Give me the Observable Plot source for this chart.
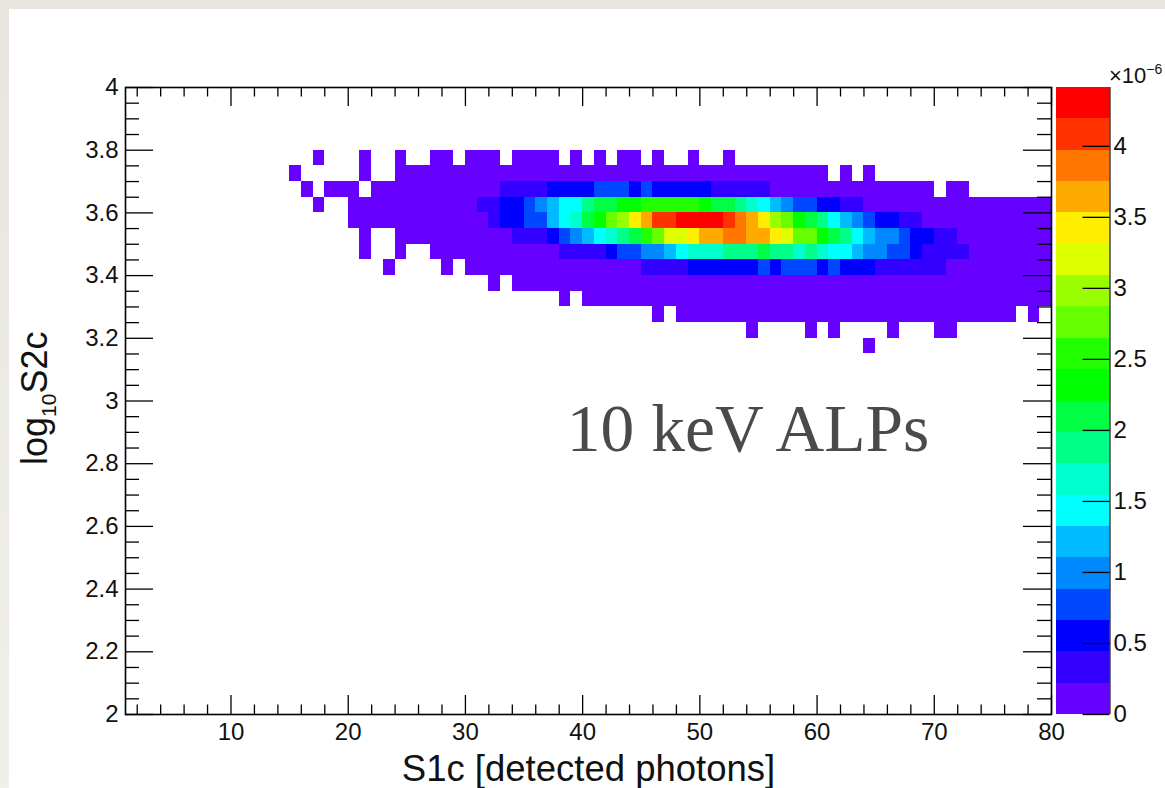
<!DOCTYPE html>
<html>
<head>
<meta charset="utf-8">
<script src="https://cdn.jsdelivr.net/npm/d3@7"></script>
<script src="https://cdn.jsdelivr.net/npm/@observablehq/plot@0.6"></script>
<style>
html,body{margin:0;padding:0;width:1165px;height:788px;overflow:hidden;background:linear-gradient(#e8e5de,#f1efea);}
#panel{position:absolute;left:9px;top:9px;width:1156px;height:779px;background:#fff;}
#chart svg{position:absolute;left:0;top:0;overflow:visible;}
</style>
</head>
<body>
<div id="panel"></div>
<div id="chart"></div>
<script>
// Palette of the 20 z-levels, bottom to top
const palette = ["#6600ff","#3300ff","#0000ff","#0048ff","#0088ff","#00bbff","#00ffff","#00ffcc","#00ff88","#00ff44",
                 "#00ff00","#22ff00","#66ff00","#99ff00","#ddff00","#ffee00","#ffaa00","#ff7700","#ff3300","#ff0000"];
const zMax = 4.414;            // top of the z axis, x 10^-6
const zLevels = 20;

// Each row: lower log10S2c edge, S1c of its first bin, cell contents (x 10^-6, 0 = empty)
const rowY     = [3.75,3.70,3.65,3.60,3.55,3.50,3.45,3.40,3.35,3.30,3.25,3.20,3.15];
const rowFirst = [17,15,16,17,20,21,21,23,32,38,46,54,64];

const row375 = [.11,0,0,0,.11,0,0,.11,0,0,.11,.11,0,.11,.11,.11,0,.11,.11,.11,.11,0,.11,0,.11,0,.11,.11,0,.11,0,0,.11,0,0,.11];
const row370 = [.11,0,0,0,0,0,.11,0,0,
  .11,.11,.11,.11,.11,.11,.11,.11,.11,.11,.11,.11,.11,.11,.11,.11,.11,.11,.11,.11,.11,.11,.11,.11,.11,.11,.11,.11,.11,.11,.11,.11,.11,.11,.11,.11,.11,
  0,.11,0,.11];
const row365 = [.11,0,.11,.11,.11,0,.11,.11,.11,.11,.11,.11,.11,.11,.11,.11,.11,
  .33,.33,.33,.33,.55,.55,.55,.55,.77,.77,.77,.55,.77,.55,.55,.55,.55,.55,.33,.33,.33,.33,.33,
  .11,.11,.11,.11,.11,.11,.11,.11,.11,.11,.11,.11,.11,.11,0,.11,.11];
const row360 = [.11,0,0,.11,.11,.11,.11,.11,.11,.11,.11,.11,.11,.11,
  .33,.33,.55,.55,.77,.99,1.21,1.43,1.43,1.88,2.1,2.1,2.32,2.32,2.54,2.54,2.54,2.54,2.54,2.32,2.1,2.1,1.88,1.66,1.43,1.21,.99,.77,.77,.55,.55,.33,.33,
  .11,.11,.11,.11,.11,.11,.11,.11,.11,.11,.11,.11,.11,.11,.11,.11];
const row355 = [.11,.11,.11,.11,.11,.11,.11,.11,.11,.11,.11,.11,
  .33,.55,.55,.77,.77,1.21,1.43,1.66,2.1,2.32,2.76,2.98,3.42,3.64,4.08,4.08,4.3,4.3,4.3,4.3,4.08,3.86,3.64,3.42,2.98,2.76,2.32,2.1,1.88,1.43,1.21,.99,.77,.55,.55,.33,.33,
  .11,.11,.11,.11,.11,.11,.11,.11,.11,.11,.11];
const row350 = [.11,0,0,.11,.11,.11,.11,.11,.11,.11,.11,.11,.11,
  .33,.33,.33,.55,.77,.99,1.21,1.43,1.66,1.88,2.1,2.54,2.76,3.2,3.2,3.42,3.64,3.64,3.86,3.86,3.64,3.64,3.42,3.2,2.76,2.76,2.32,2.1,1.88,1.43,1.21,.99,.99,.77,.55,.55,.33,.33,
  .11,.11,.11,.11,.11,.11,.11,.11];
const row345 = [.11,0,0,.11,0,0,.11,.11,.11,.11,.11,.11,.11,.11,.11,.11,.11,
  .33,.33,.33,.33,.55,.77,.77,.99,.99,1.21,1.43,1.66,1.66,1.66,1.88,1.88,1.88,2.1,1.88,1.88,1.66,1.88,1.66,1.43,1.43,1.21,.99,.99,.77,.77,.55,.33,.33,.33,.33,
  .11,.11,.11,.11,.11,.11,.11];
const row340 = [.11,0,0,0,0,.11,0,.11,.11,.11,.11,.11,.11,.11,.11,.11,.11,.11,.11,.11,.11,.11,
  .33,.33,.33,.33,.55,.55,.55,.55,.55,.55,.77,.55,.77,.77,.77,.55,.77,.55,.55,.55,.33,.33,.33,.33,.33,.33,
  .11,.11,.11,.11,.11,.11,.11,.11,.11];
const row335 = [.11,0,.11,.11,.11,.11,.11,.11,.11,.11,.11,.11,.11,.11,.11,.11,.11,.11,.11,.11,.11,.11,.11,.11,.11,.11,
  .11,.11,.11,.11,.11,.11,.11,.11,.11,.11,.11,.11,.11,.11,.11,.11,.11,.11,.11,.11,.11,.11];
const row330 = [.11,0,.11,.11,.11,.11,.11,.11,.11,.11,.11,.11,.11,.11,.11,.11,.11,.11,.11,.11,.11,.11,
  .11,.11,.11,.11,.11,.11,.11,.11,.11,.11,.11,.11,.11,.11,.11,.11,.11,.11,.11,.11];
const row325 = [.11,0,.11,.11,.11,.11,.11,.11,.11,.11,.11,.11,.11,.11,.11,.11,
  .11,.11,.11,.11,.11,.11,.11,.11,.11,.11,.11,.11,.11,.11,.11,0,.11];
const row320 = [.11,0,0,0,0,.11,0,.11,0,0,0,0,.11,0,0,0,.11,.11];
const row315 = [.11];
const rows = [row375,row370,row365,row360,row355,row350,row345,row340,row335,row330,row325,row320,row315];

// Tick values
const xMajor = [10,20,30,40,50,60,70,80];
const xMinor = d3.range(2,80,2).filter(d => d % 10 !== 0);
const yMajor = [2,2.2,2.4,2.6,2.8,3,3.2,3.4,3.6,3.8,4];
const yMinor = d3.range(0,41).map(i => 2 + i*0.05).filter((d,i) => i % 4 !== 0);
const zMajor = [0,0.5,1,1.5,2,2.5,3,3.5,4];

const xTitle = "S1c [detected photons]";
const note = [{x:38.65, y:2.84, text:"10 keV ALPs"}];

const cells = rows.flatMap((r,j) => r.flatMap((v,k) => v ? [{
  x1: rowFirst[j]+k, x2: rowFirst[j]+k+1, y1: rowY[j], y2: rowY[j]+0.05, v
}] : []));

const step = zMax/zLevels;
const thresholds = d3.range(1,zLevels).map(i => i*step);
const colorOpt = {type:"threshold", domain:thresholds, range:palette};
const bands = d3.range(zLevels).map(i => ({y1:i*step, y2:(i+1)*step, v:(i+0.5)*step}));

const W = 1165, H = 788;
const font = "'Liberation Sans', Arial, sans-serif";
const innerH = 714-87, innerW = 1051-125;

const main = Plot.plot({
  width:W, height:H,
  marginLeft:125, marginRight:W-1051, marginTop:87, marginBottom:H-714,
  style:{background:"transparent", fontFamily:font, color:"#000"},
  x:{domain:[1,80], axis:null},
  y:{domain:[2,4], axis:null},
  color:colorOpt,
  marks:[
    Plot.rect(cells,{x1:"x1",x2:"x2",y1:"y1",y2:"y2",fill:"v",shapeRendering:"crispEdges"}),
    Plot.tickX(xMinor,{x:d=>d,insetTop:innerH-9.5,strokeWidth:1.3}),
    Plot.tickX(xMinor,{x:d=>d,insetBottom:innerH-9.5,strokeWidth:1.3}),
    Plot.tickX(xMajor,{x:d=>d,insetTop:innerH-19,strokeWidth:1.3}),
    Plot.tickX(xMajor,{x:d=>d,insetBottom:innerH-19,strokeWidth:1.3}),
    Plot.tickY(yMinor,{y:d=>d,insetRight:innerW-14,strokeWidth:1.3}),
    Plot.tickY(yMinor,{y:d=>d,insetLeft:innerW-14,strokeWidth:1.3}),
    Plot.tickY(yMajor,{y:d=>d,insetRight:innerW-28,strokeWidth:1.3}),
    Plot.tickY(yMajor,{y:d=>d,insetLeft:innerW-28,strokeWidth:1.3}),
    Plot.frame({stroke:"#000",strokeWidth:1.6}),
    Plot.axisX({anchor:"bottom",ticks:xMajor,tickSize:0,tickPadding:8,tickFormat:String,fontSize:24,label:null,fill:"#111"}),
    Plot.axisY({anchor:"left",ticks:yMajor,tickSize:0,tickPadding:7,tickFormat:d=>String(+d.toFixed(1)),fontSize:24,label:null,fill:"#111"}),
    Plot.text([xTitle],{frameAnchor:"bottom",dy:H-714-8,lineAnchor:"bottom",fontSize:36.5,text:d=>d,fill:"#111"}),
    Plot.text(note,{x:"x",y:"y",text:"text",textAnchor:"start",lineAnchor:"bottom",fontSize:67.5,fontFamily:"'Liberation Serif',serif",fill:"#4a4a4a"})
  ]
});

const bar = Plot.plot({
  width:W, height:H,
  marginLeft:1056, marginRight:W-1109.5, marginTop:87, marginBottom:H-714,
  style:{background:"transparent", fontFamily:font, color:"#000"},
  x:{domain:[0,1], axis:null},
  y:{domain:[0,zMax], axis:null},
  color:colorOpt,
  marks:[
    Plot.rect(bands,{x1:()=>0,x2:()=>1,y1:"y1",y2:"y2",fill:"v",shapeRendering:"crispEdges"}),
    Plot.ruleX([1],{stroke:"#444",strokeWidth:1.5}),
    Plot.tickY(zMajor,{y:d=>d,insetLeft:26.5,strokeWidth:1.3}),
    Plot.axisY({anchor:"right",ticks:zMajor,tickSize:0,tickPadding:3.5,tickFormat:String,fontSize:24,label:null,fill:"#111"})
  ]
});

// Labels that need a subscript or superscript
const yLabel = d3.select(main).append("text")
  .attr("transform","translate(47,465) rotate(-90)")
  .attr("text-anchor","start")
  .attr("font-size",36).attr("fill","#111");
yLabel.append("tspan").text("log");
yLabel.append("tspan").attr("dy",9).attr("font-size",21).text("10");
yLabel.append("tspan").attr("dy",-9).text("S2c");

const zExp = d3.select(bar).append("text")
  .attr("x",1109).attr("y",83)
  .attr("text-anchor","start")
  .attr("font-size",22).attr("fill","#111");
zExp.append("tspan").text("×10");
zExp.append("tspan").attr("dy",-9).attr("font-size",14).text("−6");

document.getElementById("chart").append(main, bar);
</script>
</body>
</html>
